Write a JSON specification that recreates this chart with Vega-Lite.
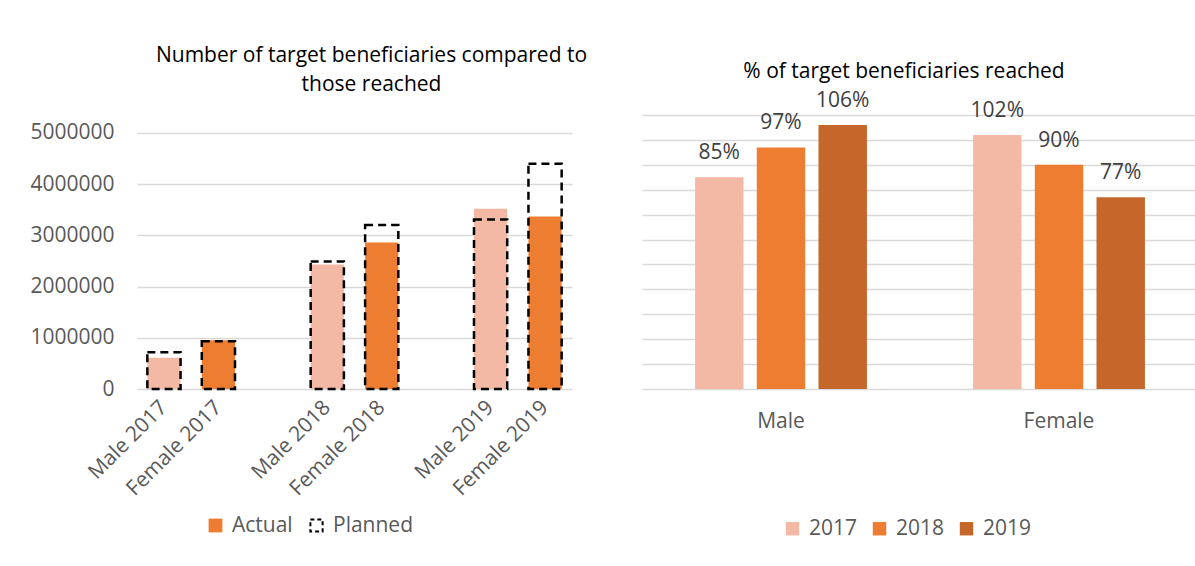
{
  "$schema": "https://vega.github.io/schema/vega-lite/v6.json",
  "padding": {"left": 29, "top": 45, "right": 0, "bottom": 5},
  "background": "white",
  "bounds": "flush",
  "spacing": 70,
  "config": {
    "font": "Open Sans",
    "view": {"stroke": null},
    "axis": {"labelFont": "Open Sans", "labelColor": "#595959", "labelFontSize": 21, "ticks": false, "domain": false, "title": null, "gridColor": "#D9D9D9", "gridWidth": 1.5},
    "legend": {"labelFont": "Open Sans", "labelColor": "#595959", "labelFontSize": 21}
  },
  "resolve": {"scale": {"color": "independent", "fill": "independent", "stroke": "independent", "opacity": "independent"}, "legend": {"color": "independent", "fill": "independent", "stroke": "independent", "opacity": "independent"}},
  "hconcat": [
    {
      "width": 435,
      "height": 274,
      "title": {"text": ["Number of target beneficiaries compared to", "those reached"], "fontSize": 21, "fontWeight": "normal", "color": "#000000", "lineHeight": 29, "offset": 20, "dx": 17, "anchor": "middle", "frame": "group", "font": "Open Sans"},
      "data": {"values": [
        {"cat": "Male 2017", "gender": "Male", "actual": 610000, "planned": 720000},
        {"cat": "Female 2017", "gender": "Female", "actual": 950000, "planned": 930000},
        {"cat": "Male 2018", "gender": "Male", "actual": 2430000, "planned": 2490000},
        {"cat": "Female 2018", "gender": "Female", "actual": 2860000, "planned": 3200000},
        {"cat": "Male 2019", "gender": "Male", "actual": 3520000, "planned": 3310000},
        {"cat": "Female 2019", "gender": "Female", "actual": 3370000, "planned": 4400000}
      ]},
      "layer": [
        {
          "mark": {"type": "bar"},
          "encoding": {
            "x": {"field": "cat", "type": "nominal", "sort": null,
              "scale": {"domain": ["Male 2017", "Female 2017", " ", "Male 2018", "Female 2018", "  ", "Male 2019", "Female 2019"], "paddingInner": 0.39, "paddingOuter": 0.19},
              "axis": {"labelAngle": -45, "labelAlign": "right", "labelBaseline": "middle", "labelPadding": 15, "grid": false}},
            "y": {"field": "actual", "type": "quantitative",
              "scale": {"domain": [0, 5350000], "nice": false, "zero": true},
              "axis": {"values": [0, 1000000, 2000000, 3000000, 4000000, 5000000], "format": "d", "grid": true, "labelPadding": 23}},
            "fill": {"field": "gender", "type": "nominal", "scale": {"domain": ["Male", "Female"], "range": ["#F4B9A4", "#ED7D31"]}, "legend": null},
            "opacity": {"datum": "Actual", "type": "nominal", "scale": {"domain": ["Actual"], "range": [1, 1]},
              "legend": {"title": null, "orient": "none", "legendX": 68, "legendY": 400, "direction": "horizontal", "symbolType": "square", "symbolSize": 190, "symbolFillColor": "#ED7D31", "symbolStrokeColor": "#ED7D31", "symbolStrokeWidth": 0, "symbolOpacity": 1, "labelOffset": 6}}
          }
        },
        {
          "mark": {"type": "bar", "fill": "transparent", "strokeWidth": 2.5, "strokeDash": [8, 5]},
          "encoding": {
            "x": {"field": "cat", "type": "nominal", "sort": null},
            "y": {"field": "planned", "type": "quantitative"},
            "stroke": {"datum": "Planned", "type": "nominal",
              "scale": {"domain": ["Planned"], "range": ["#000000"]},
              "legend": {"title": null, "orient": "none", "legendX": 169, "legendY": 400, "direction": "horizontal", "symbolType": "square", "symbolSize": 150, "symbolStrokeWidth": 2, "symbolDash": [4, 3], "symbolFillColor": "transparent", "symbolStrokeColor": "#000000", "labelOffset": 6}}
          }
        }
      ]
    },
    {
      "width": 556,
      "height": 274,
      "title": {"text": "% of target beneficiaries reached", "fontSize": 21, "fontWeight": "normal", "color": "#000000", "offset": 8, "dx": -16, "anchor": "middle", "frame": "group", "font": "Open Sans"},
      "data": {"values": [
        {"gender": "Male", "year": "2017", "pct": 0.85},
        {"gender": "Male", "year": "2018", "pct": 0.97},
        {"gender": "Male", "year": "2019", "pct": 1.06},
        {"gender": "Female", "year": "2017", "pct": 1.02},
        {"gender": "Female", "year": "2018", "pct": 0.90},
        {"gender": "Female", "year": "2019", "pct": 0.77}
      ]},
      "encoding": {
        "x": {"field": "gender", "type": "nominal", "sort": null,
          "scale": {"domain": ["Male", "Female"], "paddingInner": 0, "paddingOuter": 0},
          "axis": {"labelAngle": 0, "labelPadding": 21, "grid": false}},
        "xOffset": {"field": "year", "type": "nominal", "scale": {"domain": ["2017", "2018", "2019"], "paddingInner": 0.215, "paddingOuter": 0.86}},
        "y": {"field": "pct", "type": "quantitative",
          "scale": {"domain": [0, 1.1], "nice": false},
          "axis": {"values": [0, 0.1, 0.2, 0.3, 0.4, 0.5, 0.6, 0.7, 0.8, 0.9, 1.0, 1.1], "labels": false, "grid": true}}
      },
      "layer": [
        {
          "mark": {"type": "bar"},
          "encoding": {
            "color": {"field": "year", "type": "nominal",
              "scale": {"domain": ["2017", "2018", "2019"], "range": ["#F4B9A4", "#ED7D31", "#C5672B"]},
              "legend": {"title": null, "orient": "none", "legendX": 140, "legendY": 403, "direction": "horizontal", "symbolType": "square", "symbolSize": 180, "labelOffset": 6, "columnPadding": 11}}
          }
        },
        {
          "mark": {"type": "text", "baseline": "alphabetic", "dy": -18, "fontSize": 21, "color": "#404040", "font": "Open Sans"},
          "encoding": {
            "text": {"field": "pct", "type": "quantitative", "format": ".0%"}
          }
        }
      ]
    }
  ]
}
